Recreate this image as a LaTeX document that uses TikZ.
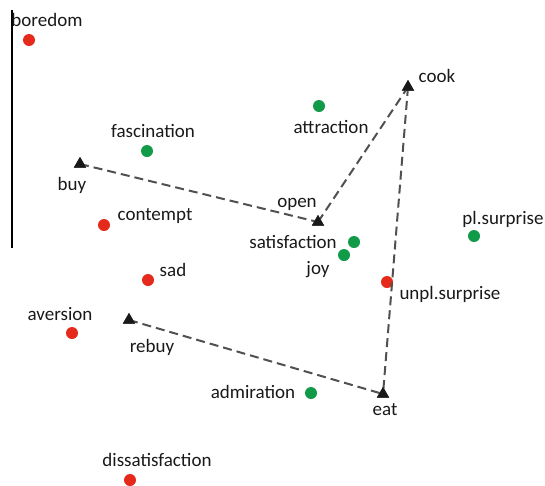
\documentclass[tikz,border=0pt]{standalone}
\usepackage{fontspec}
\setmainfont{Carlito}
\usetikzlibrary{shapes.geometric}
\definecolor{dred}{HTML}{E5291B}
\definecolor{dgreen}{HTML}{119A47}
\definecolor{dashgrey}{HTML}{505050}
\begin{document}
\begin{tikzpicture}[x=1pt,y=-1pt,
  negdot/.style={circle,fill=dred,inner sep=0pt,minimum size=12pt},
  posdot/.style={circle,fill=dgreen,inner sep=0pt,minimum size=12pt},
  actmark/.style={regular polygon,regular polygon sides=3,fill=black!90,inner sep=0pt,minimum size=14pt},
  lbl/.style={inner sep=0pt,font=\fontsize{19}{22}\selectfont,text=black!90},
  linkline/.style={draw=dashgrey,line width=2pt,dash pattern=on 9pt off 5pt}]
\useasboundingbox (0,0) rectangle (545,485);
\coordinate (ltop) at (12,10);
\coordinate (lbot) at (12,248);
\draw[line width=1.2pt] (ltop) -- (lbot);
% emotions
\node[negdot] (boredom) at (29,40) {};
\node[lbl] (lboredom) at (47,20) {boredom};
\node[posdot] (fascination) at (147,151) {};
\node[lbl] (lfascination) at (153,131) {fascination};
\node[negdot] (contempt) at (104,225) {};
\node[lbl] (lcontempt) at (155,216) {contempt};
\node[posdot] (attraction) at (319,106) {};
\node[lbl] (lattraction) at (331,127) {attraction};
\node[posdot] (satisfaction) at (354,242) {};
\node[lbl] (lsatisfaction) at (293,242) {satisfaction};
\node[posdot] (joy) at (344,255) {};
\node[lbl] (ljoy) at (318,270) {joy};
\node[posdot] (plsurprise) at (474,236) {};
\node[lbl] (lplsurprise) at (503,219) {pl.surprise};
\node[negdot] (unplsurprise) at (387,282) {};
\node[lbl] (lunplsurprise) at (450,294) {unpl.surprise};
\node[negdot] (sad) at (148,280) {};
\node[lbl] (lsad) at (173,270) {sad};
\node[negdot] (aversion) at (72,333) {};
\node[lbl] (laversion) at (60,314) {aversion};
\node[posdot] (admiration) at (311,393) {};
\node[lbl] (ladmiration) at (253,392) {admiration};
\node[negdot] (dissatisfaction) at (130,480) {};
\node[lbl] (ldissatisfaction) at (157,460) {dissatisfaction};
% actions
\node[actmark] (buy) at (80,164) {};
\node[lbl] (lbuy) at (72,185) {buy};
\node[actmark] (open) at (318,222) {};
\node[lbl] (lopen) at (297,204) {open};
\node[actmark] (cook) at (408,87) {};
\node[lbl] (lcook) at (437,76) {cook};
\node[actmark] (rebuy) at (129,320) {};
\node[lbl] (lrebuy) at (152,347) {rebuy};
\node[actmark] (eat) at (383,394) {};
\node[lbl] (leat) at (385,410) {eat};
% links
\draw[linkline] (buy.center) -- (open.center);
\draw[linkline] (open.center) -- (cook.center);
\draw[linkline] (cook.center) -- (eat.center);
\draw[linkline] (rebuy.center) -- (eat.center);
\foreach \n in {buy,open,cook,rebuy,eat} \node[actmark] at (\n) {};
\end{tikzpicture}
\end{document}
